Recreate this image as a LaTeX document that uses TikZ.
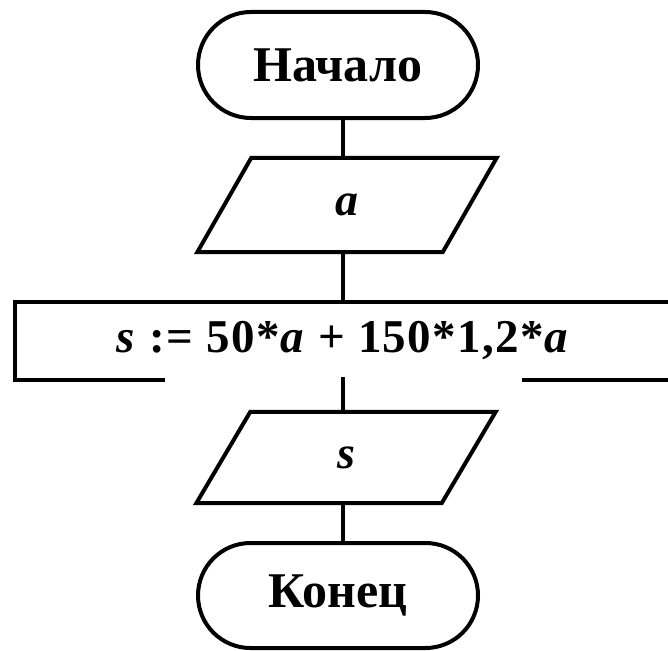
\documentclass[tikz,border=0pt]{standalone}
\usepackage{fontspec}
\setmainfont{Liberation Serif}
\usetikzlibrary{calc}
\begin{document}
\begin{tikzpicture}[x=1pt,y=-1pt,
  lw/.style={line width=4pt},
  term/.style={lw,draw,rectangle,minimum width=280pt,inner sep=0pt,
    font=\fontsize{50}{50}\selectfont\bfseries},
  parbox/.style={rectangle,minimum width=245pt,inner sep=0pt,
    font=\fontsize{46}{46}\selectfont\bfseries\itshape},
  procbox/.style={lw,draw,rectangle,minimum width=656pt,minimum height=78pt,inner sep=0pt,
    font=\fontsize{47}{47}\selectfont\bfseries},
  conn/.style={lw}
]
\useasboundingbox (0,0) rectangle (668,650);
\clip (0,0) rectangle (668,650);
\fill[white] (0,0) rectangle (668,650);

\node[term,minimum height=106pt,rounded corners=53pt] (start) at (338,65) {Начало};
\node[parbox,minimum height=94pt] (a) at (347,205) {a};
\node[procbox] (p) at (343,341) {\addfontfeatures{LetterSpace=3}\textit{s} := 50*\textit{a} + 150*1,2*\textit{a}};
\node[parbox,minimum height=91pt] (s) at (346,457.5) {s};
\node[term,minimum height=105pt,rounded corners=52.5pt] (end) at (338,595.5) {Конец};

\foreach \n in {a,s}{
  \draw[lw,line join=miter] ($(\n.north west)+(27,0)$) -- ($(\n.north east)+(27,0)$)
    -- ($(\n.south east)+(-27,0)$) -- ($(\n.south west)+(-27,0)$) -- cycle;
}

% white patch over the lower edge of the process box
\fill[white] (165,372) rectangle (522,393);

\draw[conn] (start.south -| 343,0) -- (a.north -| 343,0);
\draw[conn] (a.south -| 343,0) -- (p.north -| 343,0);
\draw[conn] (343,377) -- (s.north -| 343,0);
\draw[conn] (s.south -| 343,0) -- (end.north -| 343,0);
\end{tikzpicture}
\end{document}
